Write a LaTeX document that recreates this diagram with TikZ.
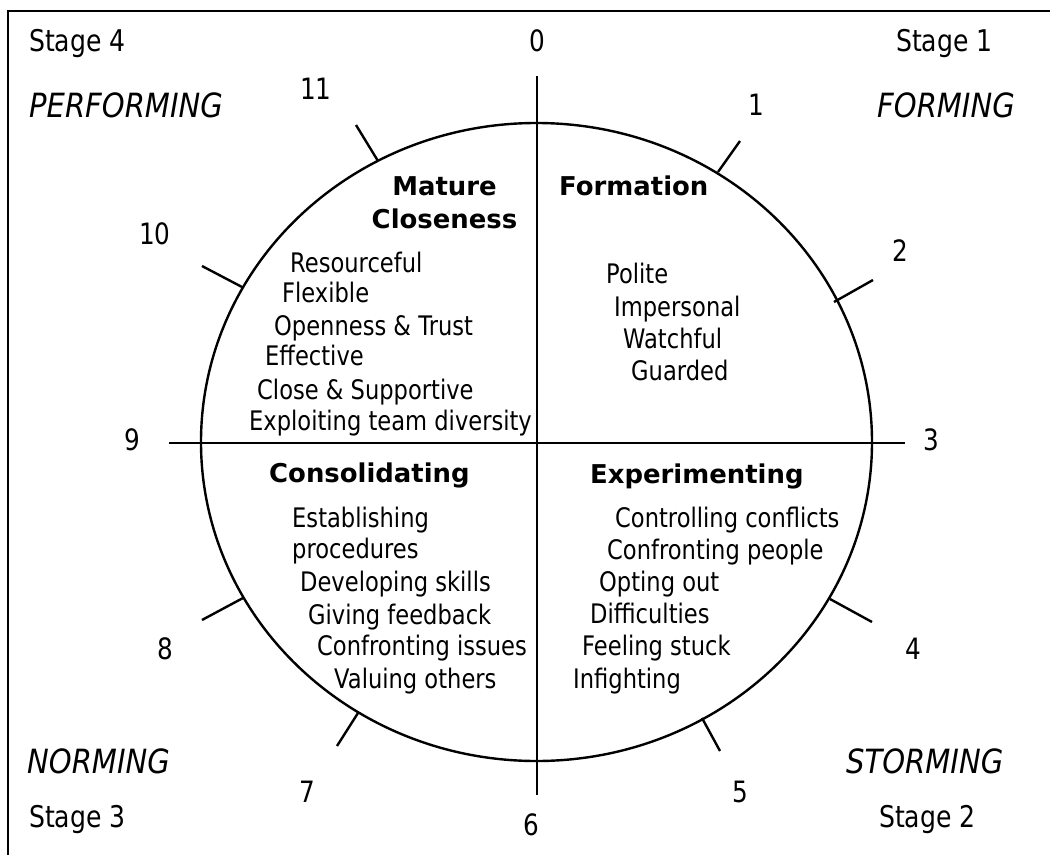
\documentclass[tikz,border=0pt]{standalone}
\usepackage{fontspec}
\newfontfamily\bodyfont{DejaVu Sans}[FakeStretch=0.84]
\newfontfamily\phasefont{DejaVu Sans}[FakeStretch=0.87]
\newfontfamily\headfont{DejaVu Sans}
\begin{document}
\begin{tikzpicture}[x=1bp,y=-1bp,line width=2.4bp,
  txt/.style={inner sep=0pt,anchor=base west,font=\bodyfont\fontsize{27}{31}\selectfont},
  head/.style={inner sep=0pt,anchor=base,font=\headfont\bfseries\fontsize{26}{30}\selectfont},
  num/.style={inner sep=0pt,anchor=base,font=\bodyfont\fontsize{29.5}{33}\selectfont},
  stage/.style={inner sep=0pt,anchor=base west,font=\bodyfont\fontsize{30}{34}\selectfont},
  phase/.style={inner sep=0pt,anchor=base west,font=\phasefont\itshape\fontsize{33.5}{38}\selectfont},
  tick/.style={line width=2.4bp}]
\useasboundingbox (0,0) rectangle (1050,855);
% open frame (top and left edges)
\draw (8,855) -- (8,11) -- (1050,11);
% the wheel
\coordinate (c) at (536.5,442);
\draw (c) ellipse [x radius=335.5bp, y radius=319bp];
\coordinate (vt) at (537,76);  \coordinate (vb) at (537,795);
\coordinate (hl) at (169,443); \coordinate (hr) at (905,443);
\draw (vt) -- (vb);
\draw (hl) -- (hr);
% clock ticks
\coordinate (t1a) at (718,172); \coordinate (t1b) at (740,141);
\coordinate (t2a) at (834,302); \coordinate (t2b) at (873,280);
\coordinate (t4a) at (830,599); \coordinate (t4b) at (872,622);
\coordinate (t5a) at (702,718); \coordinate (t5b) at (720,751);
\coordinate (t7a) at (358,713); \coordinate (t7b) at (337,746);
\coordinate (t8a) at (243,598); \coordinate (t8b) at (202,620);
\coordinate (t10a) at (242,287); \coordinate (t10b) at (202,266);
\coordinate (t11a) at (378,161); \coordinate (t11b) at (356,125);
\foreach \k in {1,2,4,5,7,8,10,11} \draw[tick] (t\k a) -- (t\k b);
% clock numbers
\node[num] (n0) at (537,51) {0};
\node[num] (n1) at (756,115) {1};
\node[num] (n2) at (900,261) {2};
\node[num] (n3) at (931,450) {3};
\node[num] (n4) at (913,659) {4};
\node[num] (n5) at (740,802) {5};
\node[num] (n6) at (531,835) {6};
\node[num] (n7) at (307.5,802) {7};
\node[num] (n8) at (165,659) {8};
\node[num] (n9) at (132.5,450) {9};
\node[num] (n10) at (155,244) {10};
\node[num] (n11) at (316,99) {11};
% stages
\node[stage] (s4) at (28,51) {Stage 4};
\node[phase] (p4) at (28,117) {PERFORMING};
\node[stage] (s1) at (895,51) {Stage 1};
\node[phase] (p1) at (876,117) {FORMING};
\node[phase] (p3) at (26,773) {NORMING};
\node[stage] (s3) at (28,827) {Stage 3};
\node[phase] (p2) at (845,773) {STORMING};
\node[stage] (s2) at (878,827) {Stage 2};
% quadrant: mature closeness
\node[head] (h4a) at (444.5,195) {Mature};
\node[head] (h4b) at (444.5,228) {Closeness};
\node[txt] (q4a) at (289,272) {Resourceful};
\node[txt] (q4b) at (281,302) {Flexible};
\node[txt] (q4c) at (273,335) {Openness \& Trust};
\node[txt] (q4d) at (264,365) {Effective};
\node[txt] (q4e) at (256,399) {Close \& Supportive};
\node[txt] (q4f) at (248,430) {Exploiting team diversity};
% quadrant: formation
\node[head,anchor=base west] (h1) at (558,195) {Formation};
\node[txt] (q1a) at (605,283) {Polite};
\node[txt] (q1b) at (613,316) {Impersonal};
\node[txt] (q1c) at (622,348) {Watchful};
\node[txt] (q1d) at (630,380) {Guarded};
% quadrant: consolidating
\node[head,anchor=base west] (h3) at (268,482) {Consolidating};
\node[txt] (q3a) at (291,527) {Establishing};
\node[txt] (q3b) at (291,558) {procedures};
\node[txt] (q3c) at (299,591) {Developing skills};
\node[txt] (q3d) at (307,624) {Giving feedback};
\node[txt] (q3e) at (316,655) {Confronting issues};
\node[txt] (q3f) at (333,688) {Valuing others};
% quadrant: experimenting
\node[head,anchor=base west] (h2) at (589,483) {Experimenting};
\node[txt] (q2a) at (614,527) {Controlling conflicts};
\node[txt] (q2b) at (606,559) {Confronting people};
\node[txt] (q2c) at (598,591) {Opting out};
\node[txt] (q2d) at (589,623) {Difficulties};
\node[txt] (q2e) at (581,655) {Feeling stuck};
\node[txt] (q2f) at (572,688) {Infighting};
\end{tikzpicture}
\end{document}
